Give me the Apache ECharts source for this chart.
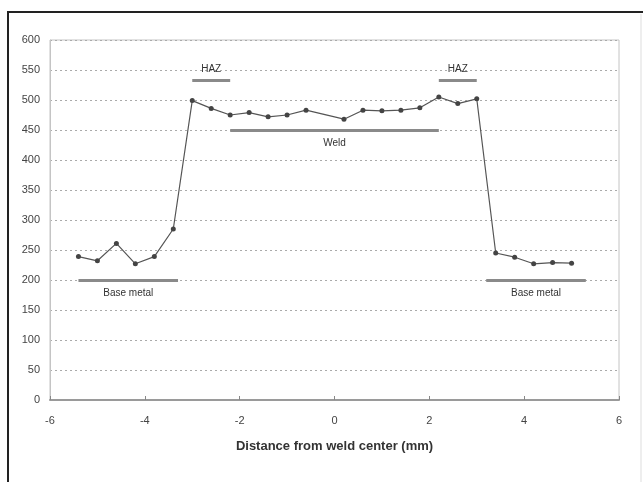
<!DOCTYPE html>
<html>
<head>
<meta charset="utf-8">
<script src="https://cdn.jsdelivr.net/npm/echarts@6/dist/echarts.min.js"></script>
<style>
  html, body { margin: 0; padding: 0; background: #fff; }
  #chart { width: 643px; height: 482px; }
</style>
</head>
<body>
<div id="chart"></div>
<script>
// distance from weld center (mm)
const distance = [-5.4, -5.0, -4.6, -4.2, -3.8, -3.4, -3.0, -2.6, -2.2, -1.8, -1.4, -1.0, -0.6,
  0.2, 0.6, 1.0, 1.4, 1.8, 2.2, 2.6, 3.0, 3.4, 3.8, 4.2, 4.6, 5.0];
// hardness values
const hardness = [239, 232, 261, 227, 239, 285, 499, 486, 475, 479, 472, 475, 483,
  468, 483, 482, 483, 487, 505, 494, 502, 245, 238, 227, 229, 228];

// zones: name, from, to, level
const zoneNames = ["Base metal", "HAZ", "Weld", "HAZ", "Base metal"];
const zoneFrom = [-5.4, -3.0, -2.2, 2.2, 3.2];
const zoneTo = [-3.3, -2.2, 2.2, 3.0, 5.3];
const zoneLevel = [200, 533, 450, 533, 200];

const xTicks = [-6, -4, -2, 0, 2, 4, 6];
const yMax = 600;

const chart = echarts.init(document.getElementById("chart"));

const zoneLines = zoneNames.map((name, i) => [
  {
    coord: [zoneFrom[i], zoneLevel[i]],
    label: {
      show: true,
      formatter: name,
      position: name === "HAZ" ? "insideMiddleTop" : "insideMiddleBottom",
      distance: name === "HAZ" ? 6 : 8,
    },
  },
  { coord: [zoneTo[i], zoneLevel[i]] },
]);

const options = {
  animation: false,
  textStyle: { fontFamily: "Liberation Sans, Arial, sans-serif" },
  grid: {
    left: 50,
    right: 24,
    top: 40,
    bottom: 82,
    show: true,
    borderColor: "#c4c4c4",
    borderWidth: 1,
  },
  xAxis: {
    type: "value",
    min: xTicks[0],
    max: xTicks[xTicks.length - 1],
    interval: 2,
    name: "Distance from weld center (mm)",
    nameLocation: "middle",
    nameGap: 40,
    nameTextStyle: { fontSize: 13, fontWeight: "bold", color: "#333" },
    axisLine: { lineStyle: { color: "#9a9a9a", width: 2 } },
    axisTick: { inside: true, length: 4, lineStyle: { color: "#888" } },
    axisLabel: { color: "#444", fontSize: 11, margin: 15 },
    splitLine: { show: false },
  },
  yAxis: {
    type: "value",
    min: 0,
    max: yMax,
    interval: 50,
    axisLine: { show: true, onZero: false, lineStyle: { color: "#c4c4c4" } },
    axisTick: { show: false },
    axisLabel: { color: "#444", fontSize: 11, margin: 10 },
    splitLine: { lineStyle: { type: [2, 3], color: "#aaa", width: 1 } },
  },
  series: [
    {
      type: "line",
      data: distance.map((d, i) => [d, hardness[i]]),
      symbol: "circle",
      symbolSize: 5,
      itemStyle: { color: "#444" },
      lineStyle: { color: "#555", width: 1.2 },
      markLine: {
        silent: true,
        symbol: ["none", "none"],
        lineStyle: { type: "solid", color: "#8a8a8a", width: 3 },
        label: { color: "#333", fontSize: 10 },
        data: zoneLines,
      },
    },
  ],
  graphic: [
    {
      type: "polyline",
      shape: { points: [[8, 482], [8, 12], [643, 12]] },
      style: { stroke: "#222", lineWidth: 2, fill: null },
    },
    {
      type: "line",
      shape: { x1: 641, y1: 14, x2: 641, y2: 482 },
      style: { stroke: "#ddd", lineWidth: 1 },
    },
  ],
};

chart.setOption(options);
</script>
</body>
</html>
